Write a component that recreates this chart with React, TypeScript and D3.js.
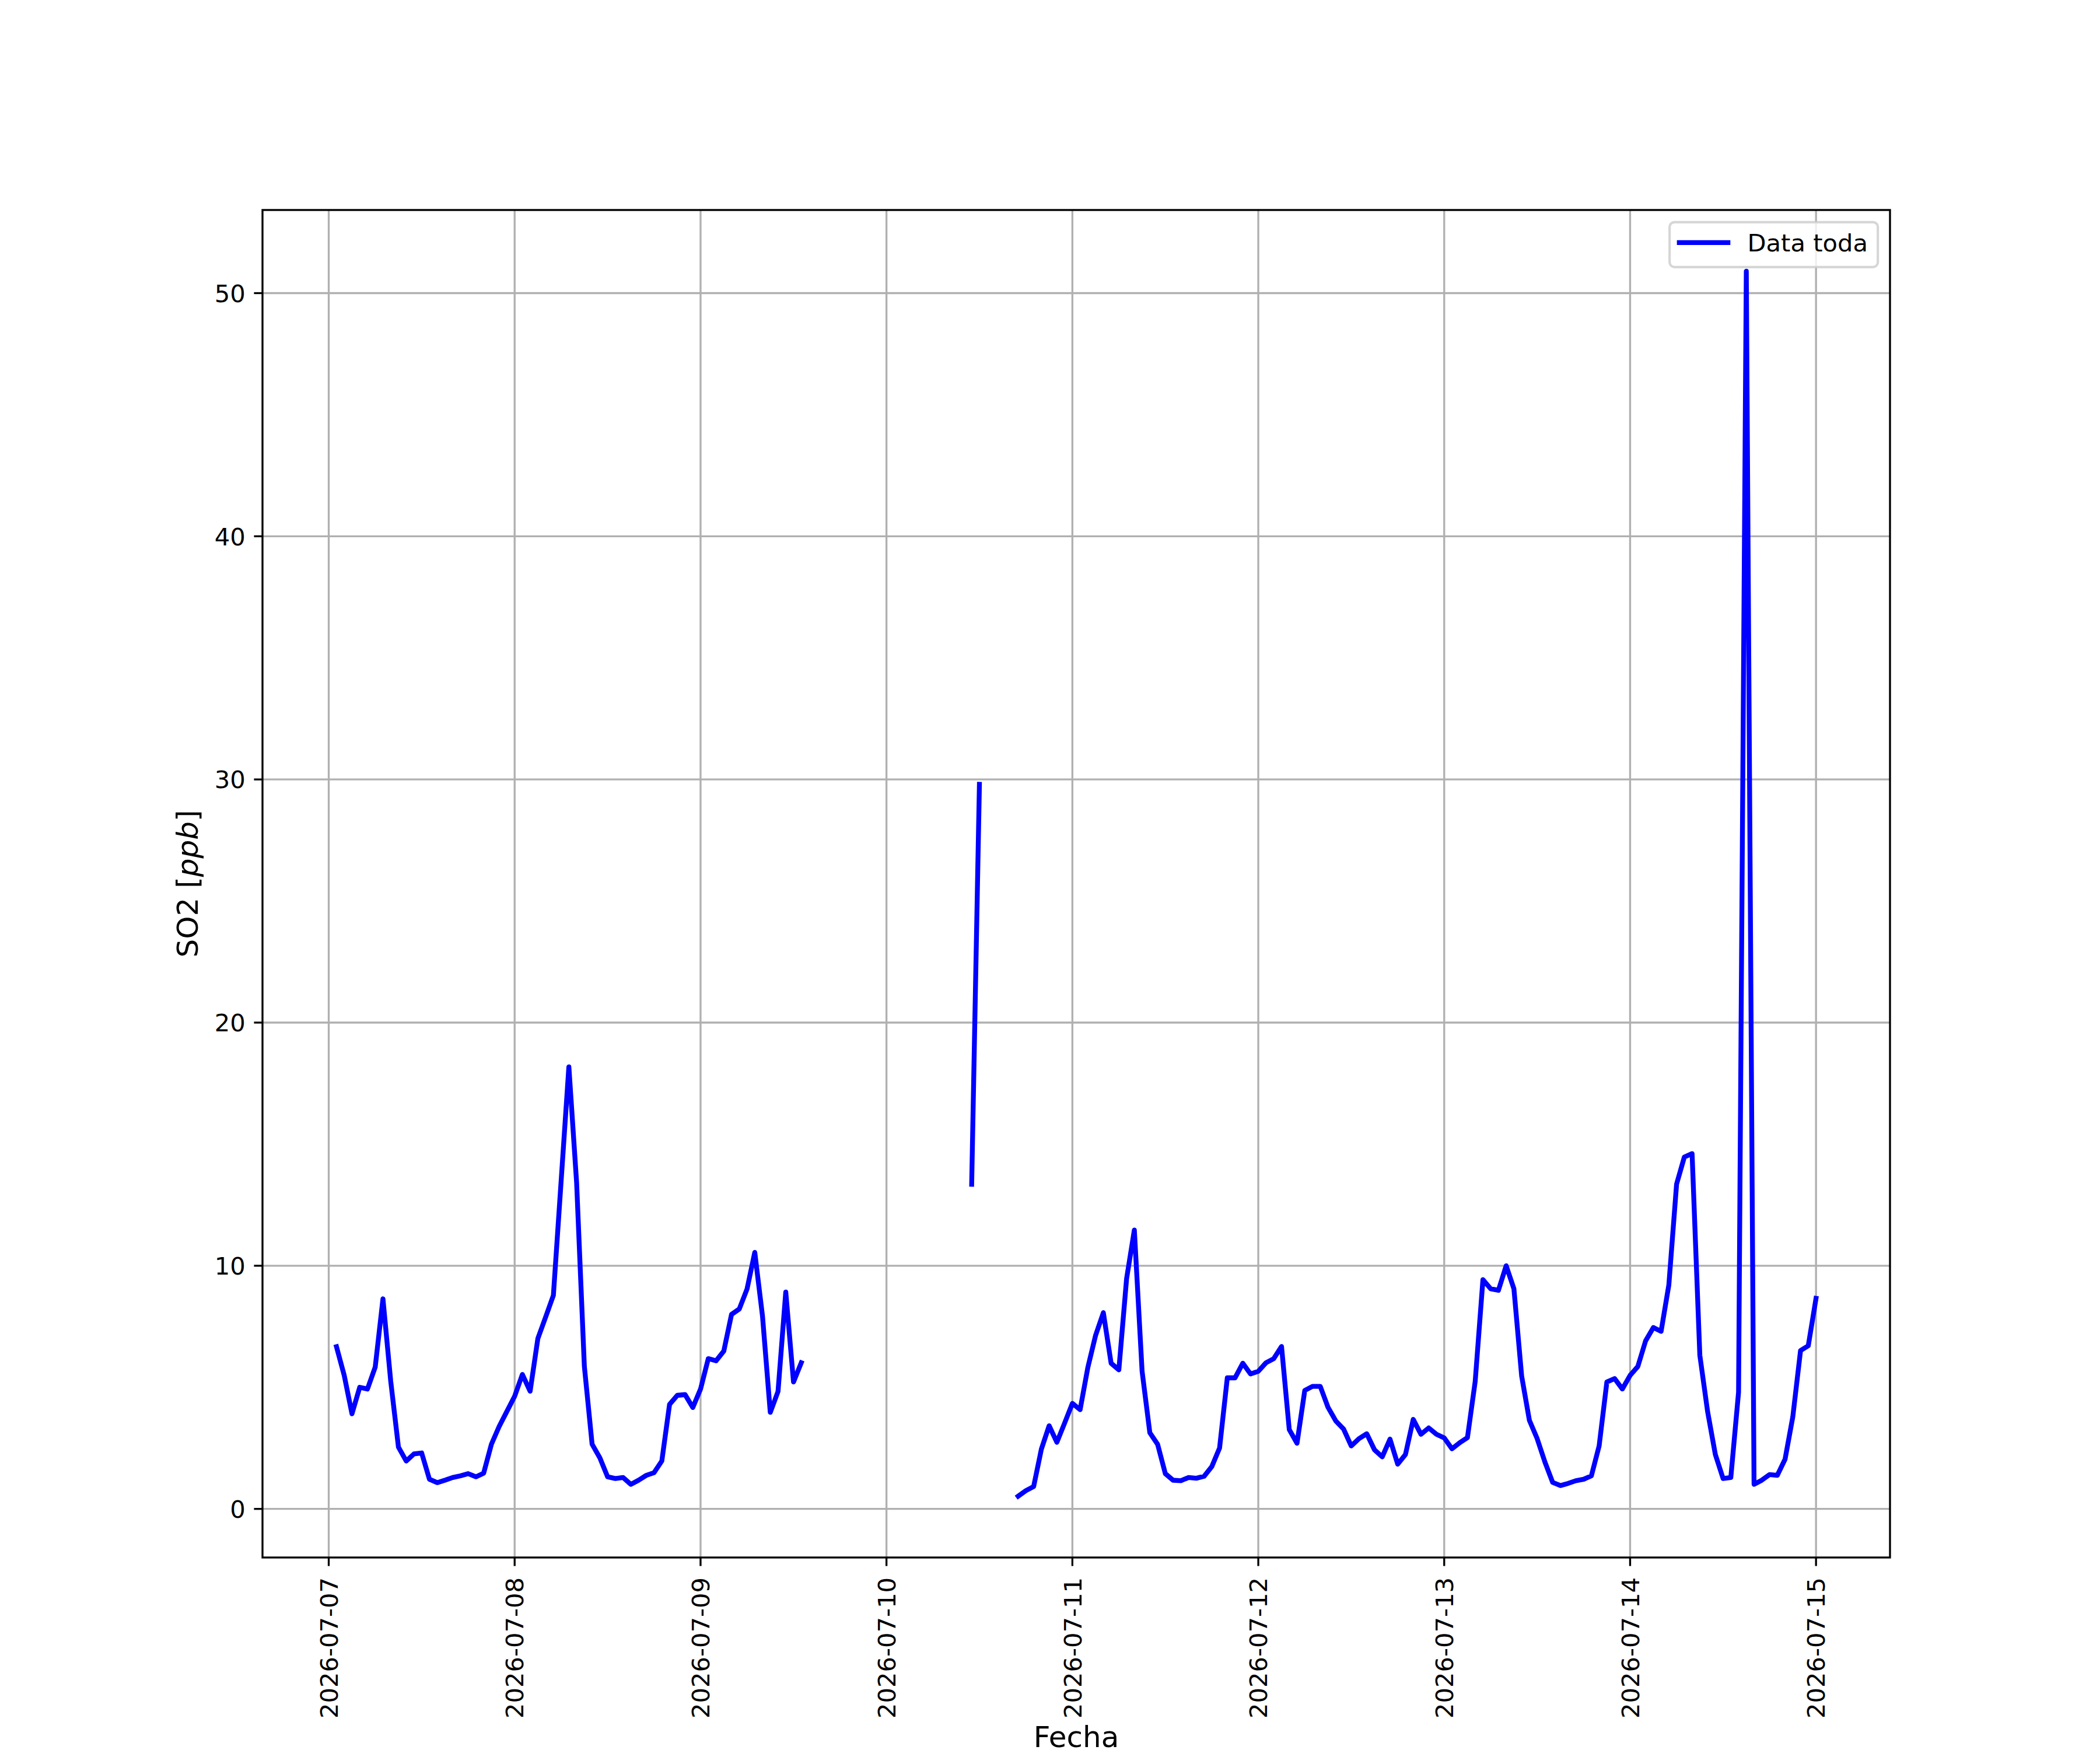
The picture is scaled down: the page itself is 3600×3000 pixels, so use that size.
import React from "react";
import * as d3 from "d3";

// hourly SO2 readings, hours counted from 2026-07-07 00:00 (UTC)
const seg1Hours = d3.range(1, 62).filter((h) => h !== 30);
const seg1Values = [
  6.67, 5.49, 3.91, 5.0, 4.93, 5.83, 8.64, 5.26, 2.54, 1.97, 2.26, 2.3, 1.22,
  1.08, 1.18, 1.29, 1.36, 1.45, 1.32, 1.47, 2.66, 3.39, 4.01, 4.63, 5.53, 4.84,
  7.01, 7.89, 8.78, 18.18, 13.42, 5.86, 2.66, 2.1, 1.32, 1.25, 1.29, 1.01, 1.18,
  1.38, 1.49, 1.97, 4.3, 4.67, 4.7, 4.17, 4.93, 6.18, 6.09, 6.49, 8.0, 8.22,
  9.04, 10.55, 7.92, 3.97, 4.83, 8.92, 5.22, 6.01,
];

const seg2Hours = [83, 84];
const seg2Values = [13.35, 29.8];

const seg3Hours = d3.range(89, 193);
const seg3Values = [
  0.52, 0.75, 0.92, 2.46, 3.42, 2.74, 3.53, 4.34, 4.08, 5.82, 7.14, 8.07, 5.99,
  5.72, 9.47, 11.47, 5.66, 3.13, 2.66, 1.45, 1.18, 1.16, 1.29, 1.26, 1.34, 1.74,
  2.5, 5.39, 5.39, 5.99, 5.55, 5.66, 6.01, 6.18, 6.68, 3.26, 2.7, 4.87, 5.04,
  5.04, 4.18, 3.62, 3.29, 2.59, 2.89, 3.09, 2.43, 2.14, 2.87, 1.84, 2.24, 3.68,
  3.07, 3.33, 3.07, 2.92, 2.47, 2.72, 2.93, 5.24, 9.43, 9.05, 8.99, 10.0, 9.05,
  5.46, 3.64, 2.89, 1.93, 1.09, 0.96, 1.05, 1.16, 1.22, 1.36, 2.59, 5.22, 5.36,
  4.93, 5.49, 5.86, 6.91, 7.46, 7.3, 9.21, 13.36, 14.47, 14.61, 6.32, 4.01,
  2.24, 1.25, 1.29, 4.8, 50.9, 1.01, 1.18, 1.41, 1.38, 2.04, 3.78, 6.51, 6.71,
  8.66,
];

const yTicks = [0, 10, 20, 30, 40, 50];
const seriesLabel = "Data toda";
const xTitle = "Fecha";

const baseTime = Date.UTC(2026, 6, 7);
const toDate = (h: number) => new Date(baseTime + h * 3600 * 1000);

interface Point {
  t: Date;
  v: number;
}

const App: React.FC = () => {
  const ref = React.useRef<SVGSVGElement>(null);

  React.useEffect(() => {
    const svg = d3.select(ref.current);
    svg.selectAll("*").remove();

    const W = 3600,
      H = 3000;
    const margin = { left: 450, right: 360, top: 360, bottom: 330 };
    const x0 = margin.left,
      x1 = W - margin.right,
      y0 = margin.top,
      y1 = H - margin.bottom;
    const font = "DejaVu Sans";
    const fs = 41.67;
    const lw = 3.33;

    const segments: Point[][] = [
      seg1Hours.map((h, i) => ({ t: toDate(h), v: seg1Values[i] })),
      seg2Hours.map((h, i) => ({ t: toDate(h), v: seg2Values[i] })),
      seg3Hours.map((h, i) => ({ t: toDate(h), v: seg3Values[i] })),
    ];
    const all = segments.flat();

    // matplotlib style 5% margins
    const [tMin, tMax] = d3.extent(all, (d) => +d.t) as [number, number];
    const tPad = (tMax - tMin) * 0.05;
    const [vMin, vMax] = d3.extent(all, (d) => d.v) as [number, number];
    const vPad = (vMax - vMin) * 0.05;

    const x = d3
      .scaleUtc()
      .domain([new Date(tMin - tPad), new Date(tMax + tPad)])
      .range([x0, x1]);
    const y = d3
      .scaleLinear()
      .domain([vMin - vPad, vMax + vPad])
      .range([y1, y0]);

    const xTicks = x.ticks(d3.utcDay.every(1)!);
    const fmt = d3.utcFormat("%Y-%m-%d");

    svg
      .append("rect")
      .attr("width", W)
      .attr("height", H)
      .attr("fill", "#ffffff");

    // grid
    const grid = svg.append("g").attr("stroke", "#b0b0b0").attr("stroke-width", lw);
    grid
      .selectAll("line.gx")
      .data(xTicks)
      .join("line")
      .attr("x1", (d) => x(d))
      .attr("x2", (d) => x(d))
      .attr("y1", y0)
      .attr("y2", y1);
    grid
      .selectAll("line.gy")
      .data(yTicks)
      .join("line")
      .attr("class", "gy")
      .attr("x1", x0)
      .attr("x2", x1)
      .attr("y1", (d) => y(d))
      .attr("y2", (d) => y(d));

    // data
    const line = d3
      .line<Point>()
      .x((d) => x(d.t))
      .y((d) => y(d.v));
    svg
      .append("g")
      .selectAll("path")
      .data(segments)
      .join("path")
      .attr("d", (d) => line(d))
      .attr("fill", "none")
      .attr("stroke", "#0000ff")
      .attr("stroke-width", 8.33)
      .attr("stroke-linejoin", "round")
      .attr("stroke-linecap", "square");

    // spines
    svg
      .append("rect")
      .attr("x", x0)
      .attr("y", y0)
      .attr("width", x1 - x0)
      .attr("height", y1 - y0)
      .attr("fill", "none")
      .attr("stroke", "#000")
      .attr("stroke-width", lw);

    // x ticks
    const xt = svg.append("g");
    xt.selectAll("line")
      .data(xTicks)
      .join("line")
      .attr("x1", (d) => x(d))
      .attr("x2", (d) => x(d))
      .attr("y1", y1)
      .attr("y2", y1 + 14.58)
      .attr("stroke", "#000")
      .attr("stroke-width", lw);
    xt.selectAll("text")
      .data(xTicks)
      .join("text")
      .attr("transform", (d) => `translate(${x(d)},${y1 + 34}) rotate(-90)`)
      .attr("text-anchor", "end")
      .attr("dy", "0.364em")
      .attr("font-family", font)
      .attr("font-size", fs)
      .text((d) => fmt(d));

    // y ticks
    const yt = svg.append("g");
    yt.selectAll("line")
      .data(yTicks)
      .join("line")
      .attr("x1", x0 - 14.58)
      .attr("x2", x0)
      .attr("y1", (d) => y(d))
      .attr("y2", (d) => y(d))
      .attr("stroke", "#000")
      .attr("stroke-width", lw);
    yt.selectAll("text")
      .data(yTicks)
      .join("text")
      .attr("x", x0 - 29.17)
      .attr("y", (d) => y(d))
      .attr("dy", "0.364em")
      .attr("text-anchor", "end")
      .attr("font-family", font)
      .attr("font-size", fs)
      .text((d) => d.toString());

    // axis titles
    svg
      .append("text")
      .attr("x", (x0 + x1) / 2)
      .attr("y", 2995)
      .attr("text-anchor", "middle")
      .attr("font-family", font)
      .attr("font-size", 50)
      .text(xTitle);

    const yl = svg
      .append("text")
      .attr("transform", `translate(339,${(y0 + y1) / 2}) rotate(-90)`)
      .attr("text-anchor", "middle")
      .attr("font-family", font)
      .attr("font-size", 50);
    yl.append("tspan").text("SO2 [");
    yl.append("tspan").attr("font-style", "italic").text("ppb");
    yl.append("tspan").text("]");

    // legend
    const lgW = 357,
      lgH = 77;
    const lgX = x1 - 20.83 - lgW,
      lgY = y0 + 20.83;
    const lg = svg.append("g");
    lg.append("rect")
      .attr("x", lgX)
      .attr("y", lgY)
      .attr("width", lgW)
      .attr("height", lgH)
      .attr("rx", 8.3)
      .attr("fill", "#ffffff")
      .attr("fill-opacity", 0.8)
      .attr("stroke", "#cccccc")
      .attr("stroke-opacity", 0.8)
      .attr("stroke-width", 4.17);
    lg.append("line")
      .attr("x1", lgX + 16.67)
      .attr("x2", lgX + 16.67 + 83.33)
      .attr("y1", lgY + 35)
      .attr("y2", lgY + 35)
      .attr("stroke", "#0000ff")
      .attr("stroke-width", 8.33)
      .attr("stroke-linecap", "square");
    lg.append("text")
      .attr("x", lgX + 16.67 + 83.33 + 33.33)
      .attr("y", lgY + 35)
      .attr("dy", "0.364em")
      .attr("font-family", font)
      .attr("font-size", fs)
      .text(seriesLabel);
  }, []);

  return (
    <svg
      ref={ref}
      width={3600}
      height={3000}
      style={{ position: "absolute", left: 0, top: 0, background: "#fff" }}
    />
  );
};

export default App;
